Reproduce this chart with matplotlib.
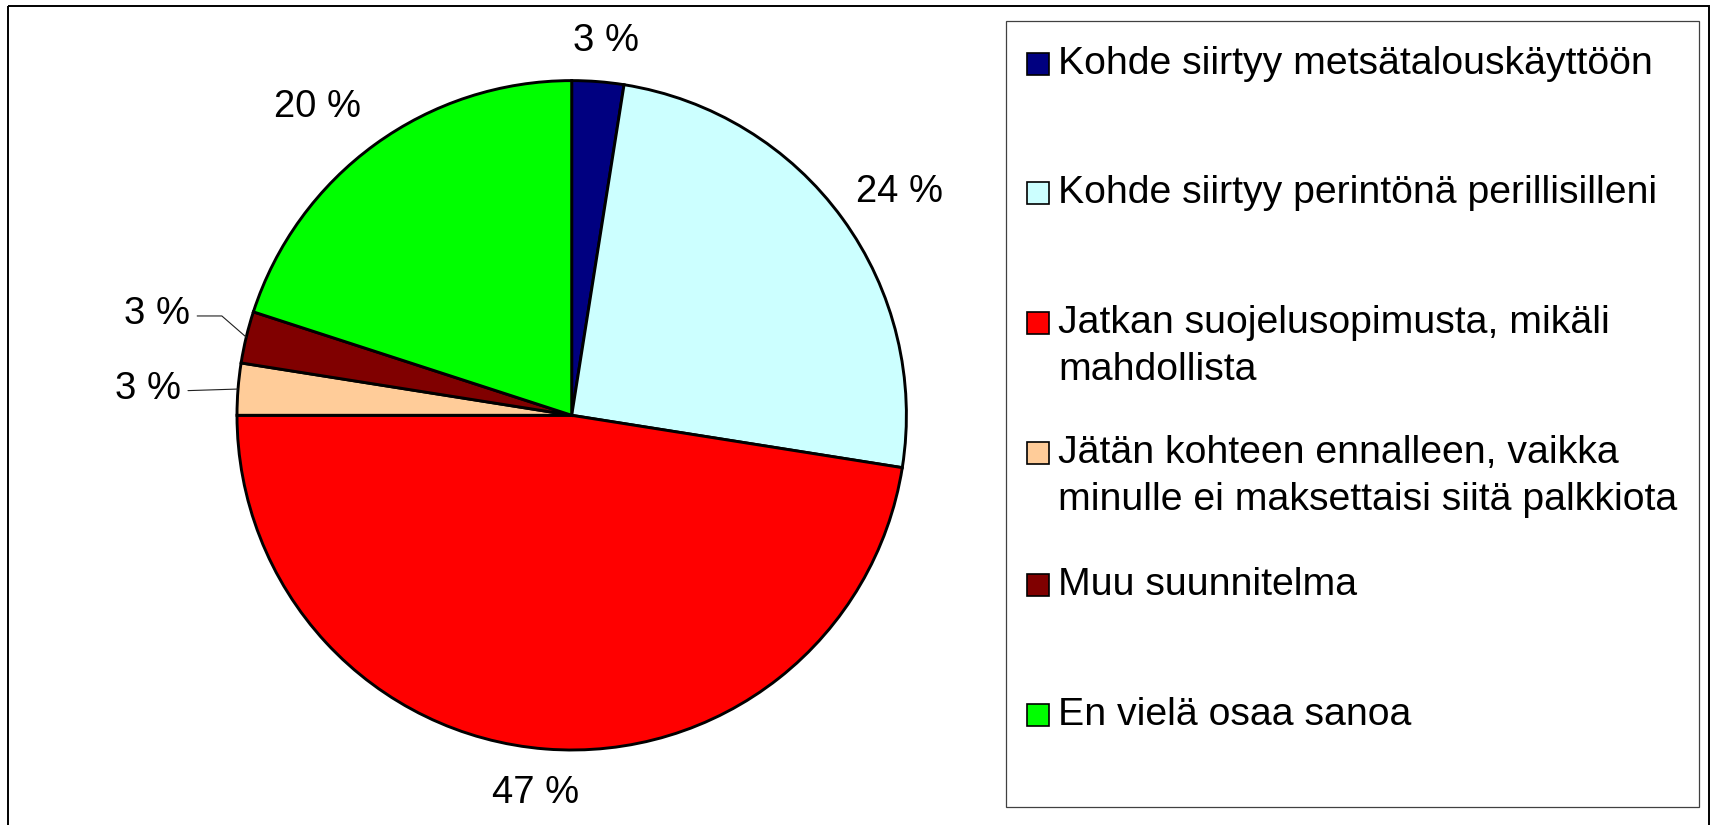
import numpy as np
import matplotlib
matplotlib.use("Agg")
import matplotlib.pyplot as plt
from matplotlib.patches import Rectangle

plt.rcParams['font.family'] = ['Liberation Sans', 'DejaVu Sans']

# ---- data ----
categories = [
    "Kohde siirtyy metsätalouskäyttöön",
    "Kohde siirtyy perintönä perillisilleni",
    "Jatkan suojelusopimusta, mikäli\nmahdollista",
    "Jätän kohteen ennalleen, vaikka\nminulle ei maksettaisi siitä palkkiota",
    "Muu suunnitelma",
    "En vielä osaa sanoa",
]
values = [2.5, 25.0, 47.5, 2.5, 2.5, 20.0]
value_labels = ["3 %", "24 %", "47 %", "3 %", "3 %", "20 %"]
colors = ["#000080", "#CCFFFF", "#FF0000", "#FFCC99", "#800000", "#00FF00"]

W, H = 1717, 825
fig = plt.figure(figsize=(W / 100, H / 100), dpi=100)
fig.patch.set_facecolor("white")

# pixel overlay for frames and legend
ov = fig.add_axes([0, 0, 1, 1])
ov.set_xlim(0, W)
ov.set_ylim(H, 0)
ov.axis("off")
ov.patch.set_alpha(0)

# outer chart frame
ov.add_patch(Rectangle((8, 6), 1701, 830, fill=False, edgecolor="black", lw=1.4))
# legend frame
ov.add_patch(Rectangle((1005.5, 21), 693.5, 786, fill=False, edgecolor="#404040", lw=0.9))

# legend entries
baselines = [74.5, 203.3, 333.3, 463.3, 595, 725]
line_step = 46.7
for cat, col, yb in zip(categories, colors, baselines):
    ov.add_patch(Rectangle((1026.5, yb - 21.5), 22, 22, facecolor=col,
                           edgecolor="black", lw=1.2))
    for i, line in enumerate(cat.split("\n")):
        ov.text(1058, yb + i * line_step, line, fontsize=28.3, ha="left",
                va="baseline", color="black")

# pie
cx, cy, R = 571.7, 415.3, 334.7
ax = fig.add_axes([0, 0, 1, 1])
ax.patch.set_alpha(0)
wedges, _ = ax.pie(values, colors=colors, startangle=90, counterclock=False,
                   wedgeprops=dict(edgecolor="black", linewidth=2.1))
ax.set_xlim(-cx / R, (W - cx) / R)
ax.set_ylim((cy - H) / R, cy / R)
ax.set_aspect("auto")
ax.axis("off")

# label offsets (pixels, y up) from the wedge mid-point on the rim
offsets = [(8, 31), (57, 17), (-10, -54), (-57, -10), (-56, 13), (-57, 28)]
has = ["center", "center", "center", "right", "right", "center"]
for k, (w, lab) in enumerate(zip(wedges, value_labels)):
    mid = np.deg2rad((w.theta1 + w.theta2) / 2)
    xy = (np.cos(mid), np.sin(mid))
    if k == 4:
        ap = dict(arrowstyle="-", color="#202020", lw=0.8, relpos=(1, 0.45),
                  shrinkA=3, shrinkB=0,
                  connectionstyle="angle,angleA=0,angleB=139,rad=0")
    elif k == 3:
        ap = dict(arrowstyle="-", color="#202020", lw=0.8, relpos=(1, 0.45),
                  shrinkA=3, shrinkB=0)
    else:
        ap = None
    ax.annotate(lab, xy=xy, xytext=offsets[k], textcoords="offset pixels",
                ha=has[k], va="baseline", fontsize=27.5, color="black",
                arrowprops=ap)

fig.savefig("out.png", dpi=100)
